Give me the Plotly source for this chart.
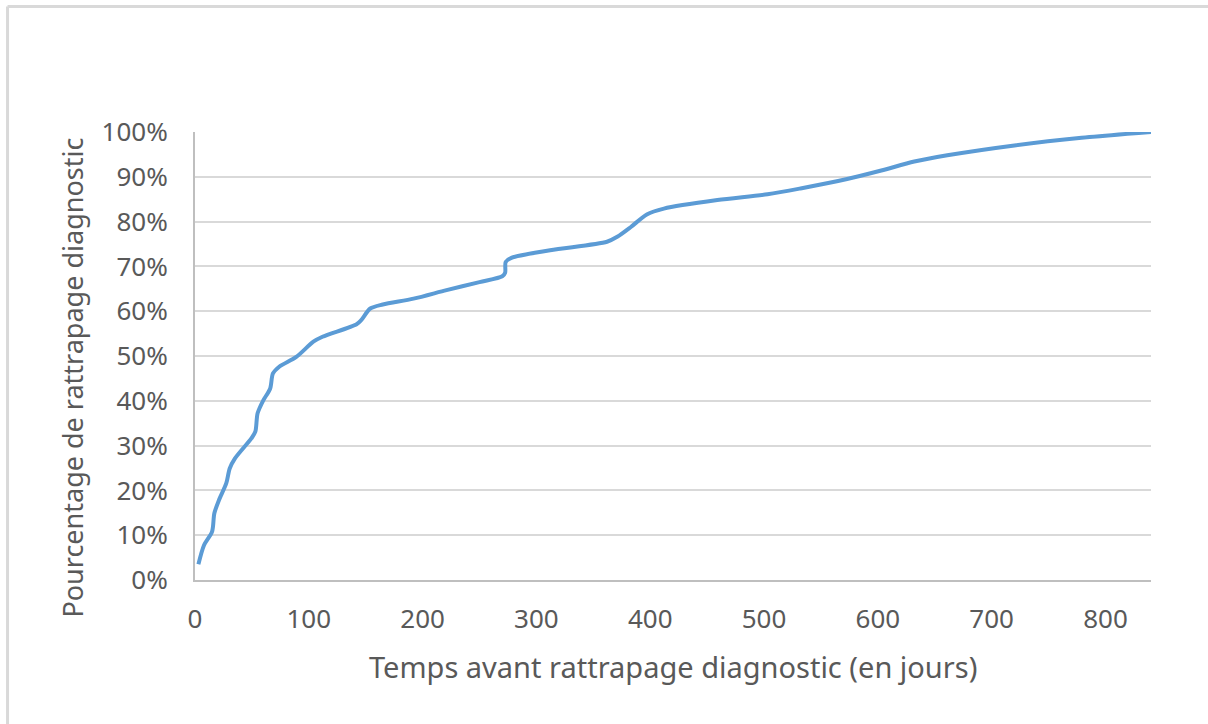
import plotly.graph_objects as go

days = [3, 8, 15, 17, 21, 27.5, 30.5, 35, 49.5, 53, 55, 60, 66, 68.5, 74, 89, 104, 112,
        142, 146, 154, 165, 192, 221, 250, 270, 272.5, 273, 278, 312, 362, 371, 383, 397,
        412, 459, 503, 532, 573, 603, 632, 661, 720, 779, 840]
pct = [3.5, 7.8, 10.8, 14.9, 17.8, 21.6, 24.9, 27.1, 31.6, 33.1, 37.2, 40.1, 42.7, 46.1,
       47.6, 49.8, 53.2, 54.3, 57.1, 58.0, 60.6, 61.5, 62.8, 64.7, 66.5, 67.8, 68.6, 71.0,
       71.9, 73.6, 75.5, 76.6, 78.8, 81.6, 82.9, 84.8, 86.1, 87.4, 89.5, 91.4, 93.4, 94.8,
       97.0, 98.7, 100.0]

x_ticks = [0, 100, 200, 300, 400, 500, 600, 700, 800]
y_ticks = [0, 10, 20, 30, 40, 50, 60, 70, 80, 90, 100]
y_labels = ["0%", "10%", "20%", "30%", "40%", "50%", "60%", "70%", "80%", "90%", "100%"]

x_title = "Temps avant rattrapage diagnostic (en jours)"
y_title = "Pourcentage de rattrapage diagnostic"

FONT = "Noto Sans"
GRAY = "#595959"

fig = go.Figure()
fig.add_trace(go.Scatter(
    x=days, y=pct, mode="lines",
    line=dict(color="#5b9bd5", width=4, shape="spline", smoothing=0.8),
    hoverinfo="skip", showlegend=False,
))

fig.update_layout(
    width=1208, height=724,
    margin=dict(l=195, r=57, t=132, b=144),
    paper_bgcolor="white", plot_bgcolor="white",
    font=dict(family=FONT, size=26, color=GRAY),
    xaxis=dict(
        range=[0, 840], tickvals=x_ticks, showgrid=False, zeroline=False,
        showline=True, linecolor="#bfbfbf", linewidth=2, ticks="",
        ticklabelstandoff=15, tickfont=dict(family=FONT, size=26, color=GRAY),
    ),
    yaxis=dict(
        range=[0, 100], tickvals=y_ticks, ticktext=y_labels, showgrid=True,
        gridcolor="#d9d9d9", gridwidth=2, zeroline=False,
        showline=True, linecolor="#bfbfbf", linewidth=2, ticks="",
        ticklabelstandoff=20, tickfont=dict(family=FONT, size=26, color=GRAY),
    ),
    annotations=[
        dict(text=x_title, xref="paper", yref="paper", x=0.5, y=-0.194,
             xanchor="center", yanchor="middle", showarrow=False,
             font=dict(family=FONT, size=29, color=GRAY)),
        dict(text=y_title, xref="paper", yref="paper", x=-0.128, y=0.451,
             xanchor="center", yanchor="middle", showarrow=False, textangle=-90,
             font=dict(family=FONT, size=27, color=GRAY)),
    ],
    shapes=[
        dict(type="line", xref="paper", yref="paper", x0=-0.1961, x1=1.07, y0=1.2801, y1=1.2801,
             line=dict(color="#d9d9d9", width=3)),
        dict(type="line", xref="paper", yref="paper", x0=-0.1961, x1=-0.1961, y0=1.2801, y1=-0.4,
             line=dict(color="#d9d9d9", width=3)),
    ],
)

fig.write_html("out.html", config={"displayModeBar": False},
               post_script="document.body.style.margin='0';")
